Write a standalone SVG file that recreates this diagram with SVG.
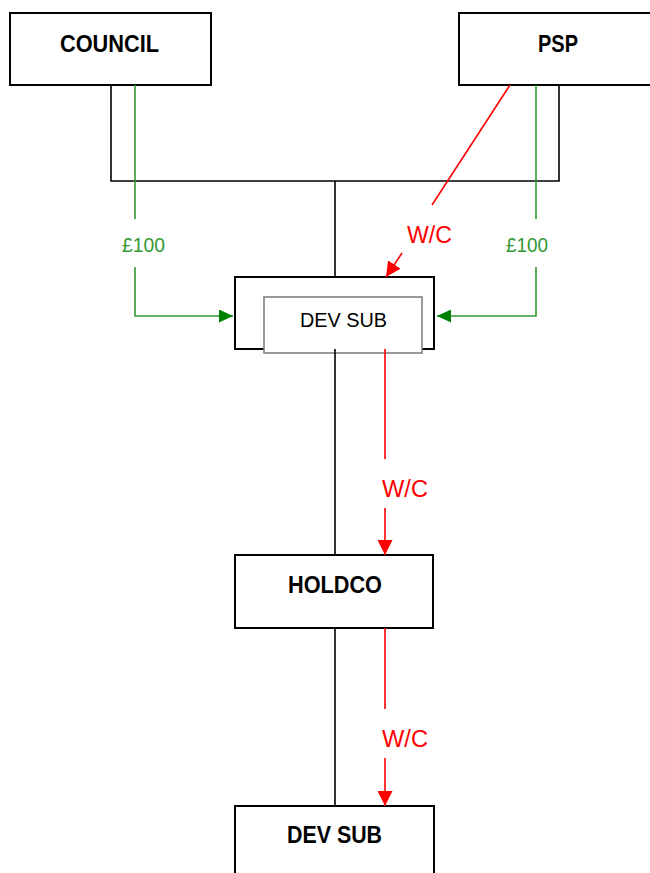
<svg xmlns="http://www.w3.org/2000/svg" width="650" height="873" viewBox="0 0 650 873">
  <style>
    .box { fill: #ffffff; stroke: #000000; stroke-width: 2; }
    .inner { fill: #ffffff; stroke: #808080; stroke-width: 1.6; }
    .lbl { font-family: "Liberation Sans", Arial, sans-serif; font-size: 23px; font-weight: bold; fill: #000000; }
    .lbl2 { font-family: "Liberation Sans", Arial, sans-serif; font-size: 20.5px; fill: #000000; }
    .blk { fill: none; stroke: #000000; stroke-width: 1.6; }
    .grn { fill: none; stroke: #339933; stroke-width: 1.6; }
    .red { fill: none; stroke: #ff0000; stroke-width: 1.6; }
    .gtxt { font-family: "Liberation Sans", Arial, sans-serif; font-size: 19.5px; fill: #339933; }
    .rtxt { font-family: "Liberation Sans", Arial, sans-serif; font-size: 23.5px; fill: #ff0000; }
  </style>
  <defs>
    <marker id="arrR" markerUnits="userSpaceOnUse" viewBox="0 0 15 15" markerWidth="15" markerHeight="15" refX="15" refY="7.5" orient="auto">
      <path d="M0,0 L15,7.5 L0,15 z" fill="#ff0000"/>
    </marker>
    <marker id="arrG" markerUnits="userSpaceOnUse" viewBox="0 0 14 13" markerWidth="14" markerHeight="13" refX="14" refY="6.5" orient="auto">
      <path d="M0,0 L14,6.5 L0,13 z" fill="#008000"/>
    </marker>
  </defs>
  <rect width="650" height="873" fill="#ffffff"/>

  <g id="council">
    <rect class="box" x="10" y="13" width="201" height="72"/>
    <text class="lbl" x="60" y="52" textLength="99" lengthAdjust="spacingAndGlyphs">COUNCIL</text>
  </g>
  <g id="psp">
    <rect class="box" x="459" y="13" width="200" height="72"/>
    <text class="lbl" x="538" y="52" textLength="40" lengthAdjust="spacingAndGlyphs">PSP</text>
  </g>
  <g id="devsub1">
    <rect class="box" x="235" y="277" width="199" height="72"/>
    <rect class="inner" x="264" y="297" width="158" height="56"/>
    <text class="lbl2" x="300" y="327" textLength="87" lengthAdjust="spacingAndGlyphs">DEV SUB</text>
  </g>
  <g id="holdco">
    <rect class="box" x="235" y="555" width="198" height="73"/>
    <text class="lbl" x="288" y="593" textLength="94" lengthAdjust="spacingAndGlyphs">HOLDCO</text>
  </g>
  <g id="devsub2">
    <rect class="box" x="235" y="806" width="199" height="80"/>
    <text class="lbl" x="287" y="843" textLength="95" lengthAdjust="spacingAndGlyphs">DEV SUB</text>
  </g>

  <g id="connectors">
    <polyline class="blk" points="111,85 111,181 559,181 559,85"/>
    <line class="blk" x1="335" y1="181" x2="335" y2="277"/>
    <line class="blk" x1="335" y1="349" x2="335" y2="555"/>
    <line class="blk" x1="335" y1="628" x2="335" y2="806"/>

    <line class="grn" x1="135" y1="85" x2="135" y2="219"/>
    <polyline class="grn" points="135,267 135,316 233,316" marker-end="url(#arrG)"/>
    <text class="gtxt" x="122" y="252" textLength="43" lengthAdjust="spacingAndGlyphs">£100</text>

    <line class="grn" x1="536" y1="85" x2="536" y2="219"/>
    <polyline class="grn" points="536,267 536,316 437,316" marker-end="url(#arrG)"/>
    <text class="gtxt" x="506" y="252" textLength="42" lengthAdjust="spacingAndGlyphs">£100</text>

    <line class="red" x1="510" y1="85" x2="432" y2="205"/>
    <line class="red" x1="402" y1="253" x2="386" y2="277" marker-end="url(#arrR)"/>
    <text class="rtxt" x="407" y="243" textLength="45" lengthAdjust="spacingAndGlyphs">W/C</text>

    <line class="red" x1="385" y1="349" x2="385" y2="459"/>
    <line class="red" x1="385" y1="508" x2="385" y2="555" marker-end="url(#arrR)"/>
    <text class="rtxt" x="382" y="497" textLength="46" lengthAdjust="spacingAndGlyphs">W/C</text>

    <line class="red" x1="385" y1="628" x2="385" y2="709"/>
    <line class="red" x1="385" y1="758" x2="385" y2="806" marker-end="url(#arrR)"/>
    <text class="rtxt" x="382" y="747" textLength="46" lengthAdjust="spacingAndGlyphs">W/C</text>
  </g>
</svg>
